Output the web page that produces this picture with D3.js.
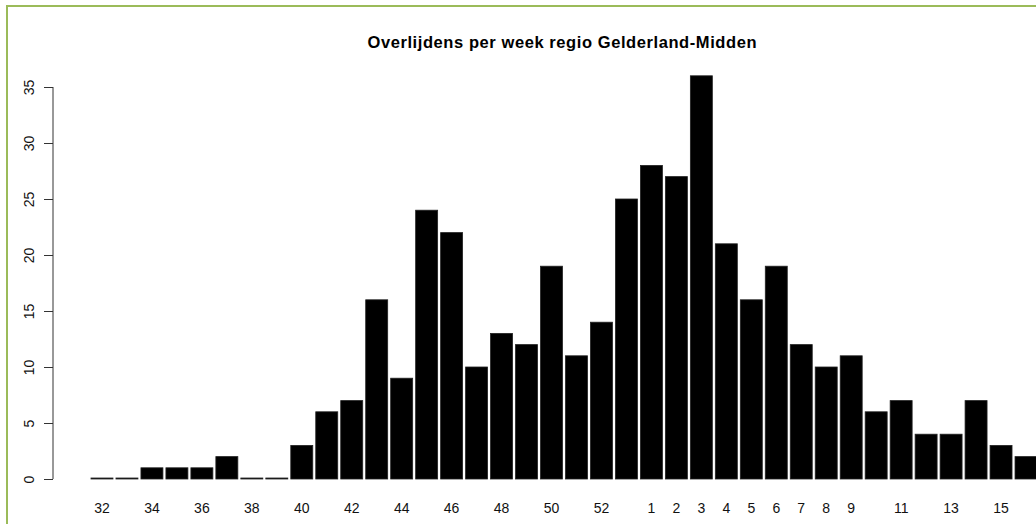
<!DOCTYPE html>
<html>
<head>
<meta charset="utf-8">
<script src="https://cdn.jsdelivr.net/npm/d3@7"></script>
<style>
  body { margin: 0; background: #fff; }
  svg { display: block; font-family: "Liberation Sans", Arial, sans-serif; }
</style>
</head>
<body>
<div id="chart"></div>
<script>
// weeks (2020 wk 32 .. 2021 wk 16)
var weeks = ["32","33","34","35","36","37","38","39","40","41","42","43","44","45","46","47","48","49","50","51","52","53",
             "1","2","3","4","5","6","7","8","9","10","11","12","13","14","15","16"];
var deaths = [0,0,1,1,1,2,0,0,3,6,7,16,9,24,22,10,13,12,19,11,14,25,
              28,27,36,21,16,19,12,10,11,6,7,4,4,7,3,2];
// labels R managed to print without overlap
var shownLabels = ["32","34","36","38","40","42","44","46","48","50","52","1","2","3","4","5","6","7","8","9","11","13","15"];
var yTicks = [0,5,10,15,20,25,30,35];

var width = 1036, height = 524;

var svg = d3.select("#chart").append("svg")
    .attr("width", width)
    .attr("height", height);

// green frame around the picture
svg.append("rect")
    .attr("x", 7).attr("y", 6)
    .attr("width", 1100).attr("height", 600)
    .attr("fill", "none")
    .attr("stroke", "#9bbb59")
    .attr("stroke-width", 2);

var x = d3.scaleBand()
    .domain(weeks)
    .range([91, 1037])
    .paddingInner(0.12)
    .paddingOuter(0);

var y = d3.scaleLinear()
    .domain([0, 35])
    .range([479, 87]);

svg.append("text")
    .attr("x", 562)
    .attr("y", 48)
    .attr("text-anchor", "middle")
    .attr("font-weight", "bold")
    .attr("font-size", "16.5px")
    .attr("textLength", 389)
    .attr("lengthAdjust", "spacing")
    .text("Overlijdens per week regio Gelderland-Midden");

// bars (zero weeks still show as a flat line, like R's border)
svg.append("g").selectAll("rect")
    .data(deaths)
    .enter().append("rect")
        .attr("x", function (d, i) { return x(weeks[i]); })
        .attr("y", function (d) { return Math.min(y(d), y(0) - 1); })
        .attr("width", x.bandwidth())
        .attr("height", function (d) { return Math.max(y(0) - y(d), 1); })
        .attr("fill", "#000")
        .attr("stroke", "#222")
        .attr("stroke-width", 0.8);

// y axis
var yAxis = d3.axisLeft(y)
    .tickValues(yTicks)
    .tickSize(9)
    .tickPadding(4);

var gy = svg.append("g")
    .attr("transform", "translate(53,0)")
    .call(yAxis);

gy.select(".domain").attr("stroke", "#333").attr("d", "M0," + y(0) + "V" + y(35));
gy.selectAll(".tick line").attr("stroke", "#333");
gy.selectAll(".tick text")
    .attr("font-size", "14px")
    .attr("font-family", "Liberation Sans, Arial, sans-serif")
    .attr("fill", "#111")
    .attr("text-anchor", "middle")
    .attr("x", null)
    .attr("dy", null)
    .attr("transform", "translate(-19,0) rotate(-90)");

// x labels
var xAxis = d3.axisBottom(x)
    .tickValues(shownLabels)
    .tickSize(0)
    .tickPadding(0);

var gx = svg.append("g")
    .attr("transform", "translate(0,502)")
    .call(xAxis);

gx.select(".domain").remove();
gx.selectAll(".tick text")
    .attr("font-size", "14px")
    .attr("font-family", "Liberation Sans, Arial, sans-serif")
    .attr("fill", "#111")
    .attr("dy", "0.75em");
</script>
</body>
</html>
